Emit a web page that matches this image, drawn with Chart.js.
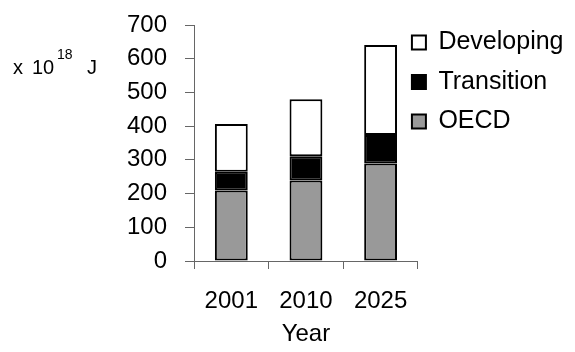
<!DOCTYPE html>
<html>
<head>
<meta charset="utf-8">
<script src="https://cdn.jsdelivr.net/npm/chart.js@4"></script>
<style>
  html, body { margin: 0; padding: 0; background: #fff; }
  #wrap { width: 575px; height: 352px; }
</style>
</head>
<body>
<div id="wrap"><canvas id="energyChart"></canvas></div>
<script>
// Data (x 10^18 J)
const years = ['2001', '2010', '2025'];
const oecd = [209, 239, 289];
const transition = [56, 72, 85];
const developing = [141, 169, 267];
const yTickValues = [0, 100, 200, 300, 400, 500, 600, 700];

const FONT = "'Liberation Sans', Arial, sans-serif";

// unit label drawn left of the y axis, horizontal like the original
const unitLabel = {
    id: 'unitLabel',
    afterDraw(chart) {
        const c = chart.ctx;
        c.save();
        c.fillStyle = '#000';
        c.textBaseline = 'alphabetic';
        c.font = '20px ' + FONT;
        c.fillText('x', 13, 74);
        c.fillText('10', 32, 74);
        c.fillText('J', 87, 74);
        c.font = '14px ' + FONT;
        c.fillText('18', 57, 59);
        c.restore();
    }
};

// legend overlaps the axis end a bit in the original
const legendNudge = {
    id: 'legendNudge',
    afterLayout(chart) {
        const lg = chart.legend;
        lg.left -= 20.5;
        lg.right -= 20.5;
        lg.top += 15.5;
        lg.bottom += 15.5;
    }
};

const ctx = document.getElementById('energyChart').getContext('2d');

new Chart(ctx, {
    type: 'bar',
    data: {
        labels: years,
        datasets: [
            {
                label: 'OECD',
                data: oecd,
                backgroundColor: '#999999',
                borderColor: '#000',
                borderWidth: 2,
                borderSkipped: false
            },
            {
                label: 'Transition',
                data: transition,
                backgroundColor: '#000',
                borderColor: '#000',
                borderWidth: 2,
                borderSkipped: false
            },
            {
                label: 'Developing',
                data: developing,
                backgroundColor: '#fff',
                borderColor: '#000',
                borderWidth: 2,
                borderSkipped: false
            }
        ]
    },
    options: {
        responsive: true,
        maintainAspectRatio: false,
        animation: false,
        layout: {
            padding: { left: 0, top: 0, right: -19, bottom: 0 }
        },
        datasets: {
            bar: { categoryPercentage: 1, barPercentage: 0.44 }
        },
        plugins: {
            legend: {
                position: 'right',
                align: 'start',
                reverse: true,
                maxWidth: 300,
                labels: {
                    boxWidth: 14,
                    boxHeight: 14,
                    padding: 14.5,
                    color: '#000',
                    font: { family: FONT, size: 25 }
                }
            },
            tooltip: { enabled: false }
        },
        scales: {
            x: {
                stacked: true,
                afterFit(scale) { scale.height = 91; },
                grid: {
                    drawOnChartArea: false,
                    tickLength: 8,
                    color: '#666'
                },
                border: { color: '#666' },
                ticks: {
                    color: '#000',
                    padding: 18,
                    font: { family: FONT, size: 24 }
                },
                title: {
                    display: true,
                    text: 'Year',
                    color: '#000',
                    padding: { top: 4, bottom: 3.5 },
                    font: { family: FONT, size: 24 }
                }
            },
            y: {
                stacked: true,
                min: 0,
                max: 700,
                afterFit(scale) {
                    scale.width = 194;
                    scale.paddingTop = 25;
                },
                afterBuildTicks(scale) {
                    scale.ticks = yTickValues.map(v => ({ value: v }));
                },
                grid: {
                    drawOnChartArea: false,
                    tickLength: 9,
                    color: '#666'
                },
                border: { color: '#666' },
                ticks: {
                    autoSkip: false,
                    color: '#000',
                    padding: 18,
                    font: { family: FONT, size: 24 }
                }
            }
        }
    },
    plugins: [unitLabel, legendNudge]
});
</script>
</body>
</html>
